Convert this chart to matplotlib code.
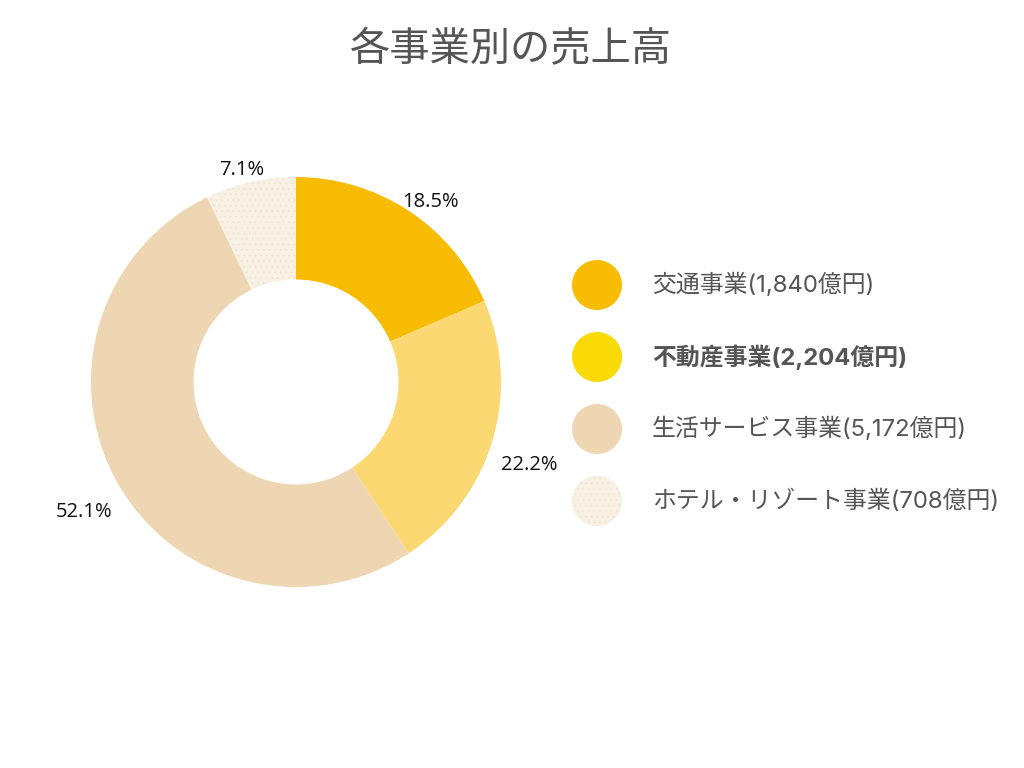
import matplotlib
matplotlib.use("Agg")
import matplotlib.pyplot as plt
from matplotlib.patches import Circle
import numpy as np

plt.rcParams['font.family'] = ['Noto Sans CJK JP', 'DejaVu Sans']
plt.rcParams['hatch.linewidth'] = 0.5

title = "各事業別の売上高"
categories = ["交通事業", "不動産事業", "生活サービス事業", "ホテル・リゾート事業"]
values = [1840, 2204, 5172, 708]
unit = "億円"
slice_colors = ["#F9BC05", "#FCD873", "#EED6B2", "#F8F0E3"]
legend_colors = ["#F9BC05", "#F9DA06", "#EED6B2", "#F8F0E3"]
highlight = 1  # bold legend entry

fig = plt.figure(figsize=(10.24, 7.68), dpi=100)
W, H = 1024, 768

# pie axes: center (296,382), radius 205 px
cx, cy, R = 296, 382, 205
ax = fig.add_axes([(cx - R) / W, (H - cy - R) / H, 2 * R / W, 2 * R / H])
wedges, _ = ax.pie(values, colors=slice_colors, startangle=90, counterclock=False,
                   radius=1.0, wedgeprops=dict(width=0.5, linewidth=0))
wedges[3].set_hatch('...')
wedges[3].set_edgecolor('#EEE4D4')
wedges[3].set_linewidth(0)
ax.set_xlim(-1, 1)
ax.set_ylim(-1, 1)
ax.set_aspect('equal')
ax.axis('off')

total = sum(values)
for w, v in zip(wedges, values):
    ang = np.deg2rad((w.theta1 + w.theta2) / 2)
    c, s = np.cos(ang), np.sin(ang)
    x = 1.19 * c
    y = 1.14 * s - 0.075
    ax.text(x, y, f"{v / total * 100:.1f}%", ha='center', va='center',
            fontsize=14.5, color='#111111', family=['Open Sans', 'DejaVu Sans'])

# overlay axes for title and legend
ov = fig.add_axes([0, 0, 1, 1])
ov.set_xlim(0, W)
ov.set_ylim(H, 0)
ov.axis('off')
ov.text(511, 50, title, ha='center', va='center', fontsize=29, color='#555555')

ly0, dy = 285, 72
for i, (cat, v) in enumerate(zip(categories, values)):
    y = ly0 + i * dy
    circ = Circle((597, y), 25, facecolor=legend_colors[i], edgecolor='none', linewidth=0)
    if i == 3:
        circ.set_hatch('...')
        circ.set_edgecolor('#EEE4D4')
    ov.add_patch(circ)
    ov.text(652, y, f"{cat}({v:,}{unit})", ha='left', va='center', fontsize=17.2,
            color='#555555', fontweight='bold' if i == highlight else 'normal',
            family=['Inter', 'Noto Sans CJK JP', 'DejaVu Sans'])

fig.savefig("out.png", dpi=100)
